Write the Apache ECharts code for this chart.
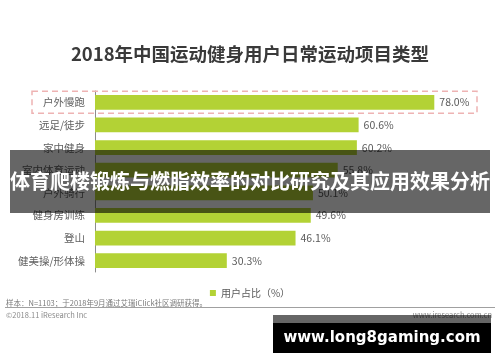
<!DOCTYPE html>
<html><head><meta charset="utf-8">
<script src="https://cdn.jsdelivr.net/npm/echarts@6/dist/echarts.min.js"></script>
<style>html,body{margin:0;padding:0;background:#fff}#c{width:500px;height:362px}</style>
</head><body><div id="c"></div>
<script>
var categories = ['户外慢跑','远足/徒步','家中健身','室内体育运动','户外骑行','健身房训练','登山','健美操/形体操'];
var values = [78.0, 60.6, 60.2, 55.8, 50.1, 49.6, 46.1, 30.3];
var seriesName = '用户占比（%）';
var titleText = '2018年中国运动健身用户日常运动项目类型';
var bannerText = '体育爬楼锻炼与燃脂效率的对比研究及其应用效果分析';
var noteText = '样本：N=1103；于2018年9月通过艾瑞iClick社区调研获得。';
var copyText = '©2018.11 iResearch Inc';
var siteText = 'www.iresearch.com.cn';
var watermark = 'www.long8gaming.com';

var cjk = '"Noto Sans CJK SC","Microsoft YaHei",sans-serif';
var chart = echarts.init(document.getElementById('c'), null, {renderer:'canvas'});
chart.setOption({
  animation:false,
  backgroundColor:'#fff',
  title:{text:titleText,left:'center',top:40,textStyle:{fontFamily:cjk,fontSize:18.5,fontWeight:'bold',color:'#3a3a3a'}},
  grid:{left:95,top:91,bottom:90,right:13.5,containLabel:false},
  xAxis:{type:'value',min:0,max:90,show:false},
  yAxis:{type:'category',data:categories,inverse:true,
    axisLine:{lineStyle:{color:'#8c8c8c',width:1}},axisTick:{show:false},
    axisLabel:{color:'#606060',fontSize:10.5,fontFamily:cjk,margin:10}},
  legend:{data:[seriesName],left:'center',top:283,icon:'rect',itemWidth:6,itemHeight:6,itemGap:4,
    textStyle:{color:'#5a5a5a',fontSize:10,fontFamily:cjk}},
  series:[{name:seriesName,type:'bar',data:values,barWidth:'65%',
    itemStyle:{color:'#b3d235'},
    label:{show:true,position:'right',distance:5,color:'#5a5a5a',fontSize:10.5,fontFamily:cjk,
      formatter:function(p){return p.value.toFixed(1)+'%';}}}]
});
var y0 = chart.convertToPixel({yAxisIndex:0}, categories[0]);
chart.setOption({graphic:[
  {type:'rect',shape:{x:32,y:y0-11,width:445,height:22},style:{fill:'none',stroke:'#eeb3b3',lineWidth:1.5,lineDash:[6,4]},z:10},
  {type:'text',left:6,top:299,style:{text:noteText,fill:'#7a7a7a',fontSize:7.5,fontFamily:cjk}},
  {type:'line',shape:{x1:5,y1:307.5,x2:495,y2:307.5},style:{stroke:'#a0a0a0',lineWidth:1}},
  {type:'text',left:6,top:311,style:{text:copyText,fill:'#8a8a8a',fontSize:7.5,fontFamily:cjk}},
  {type:'text',right:8,top:311,style:{text:siteText,fill:'#8a8a8a',fontSize:7.5,fontFamily:cjk}},
  {type:'rect',shape:{x:10,y:150,width:480,height:63},style:{fill:'rgba(0,0,0,0.6)'},z:20},
  {type:'text',x:250,y:181,style:{text:bannerText,fill:'#fff',fontSize:20,fontWeight:'bold',fontFamily:cjk,align:'center',verticalAlign:'middle'},z:21},
  {type:'rect',shape:{x:273,y:315,width:218,height:8},style:{fill:'rgba(0,0,0,0.6)'},z:20},
  {type:'rect',shape:{x:273,y:323,width:218,height:30},style:{fill:'#000'},z:20},
  {type:'text',x:382,y:338,style:{text:watermark,fill:'#fff',fontSize:15,fontWeight:'bold',fontFamily:'"DejaVu Sans",Verdana,sans-serif',align:'center',verticalAlign:'middle'},z:21}
]});
</script></body></html>
